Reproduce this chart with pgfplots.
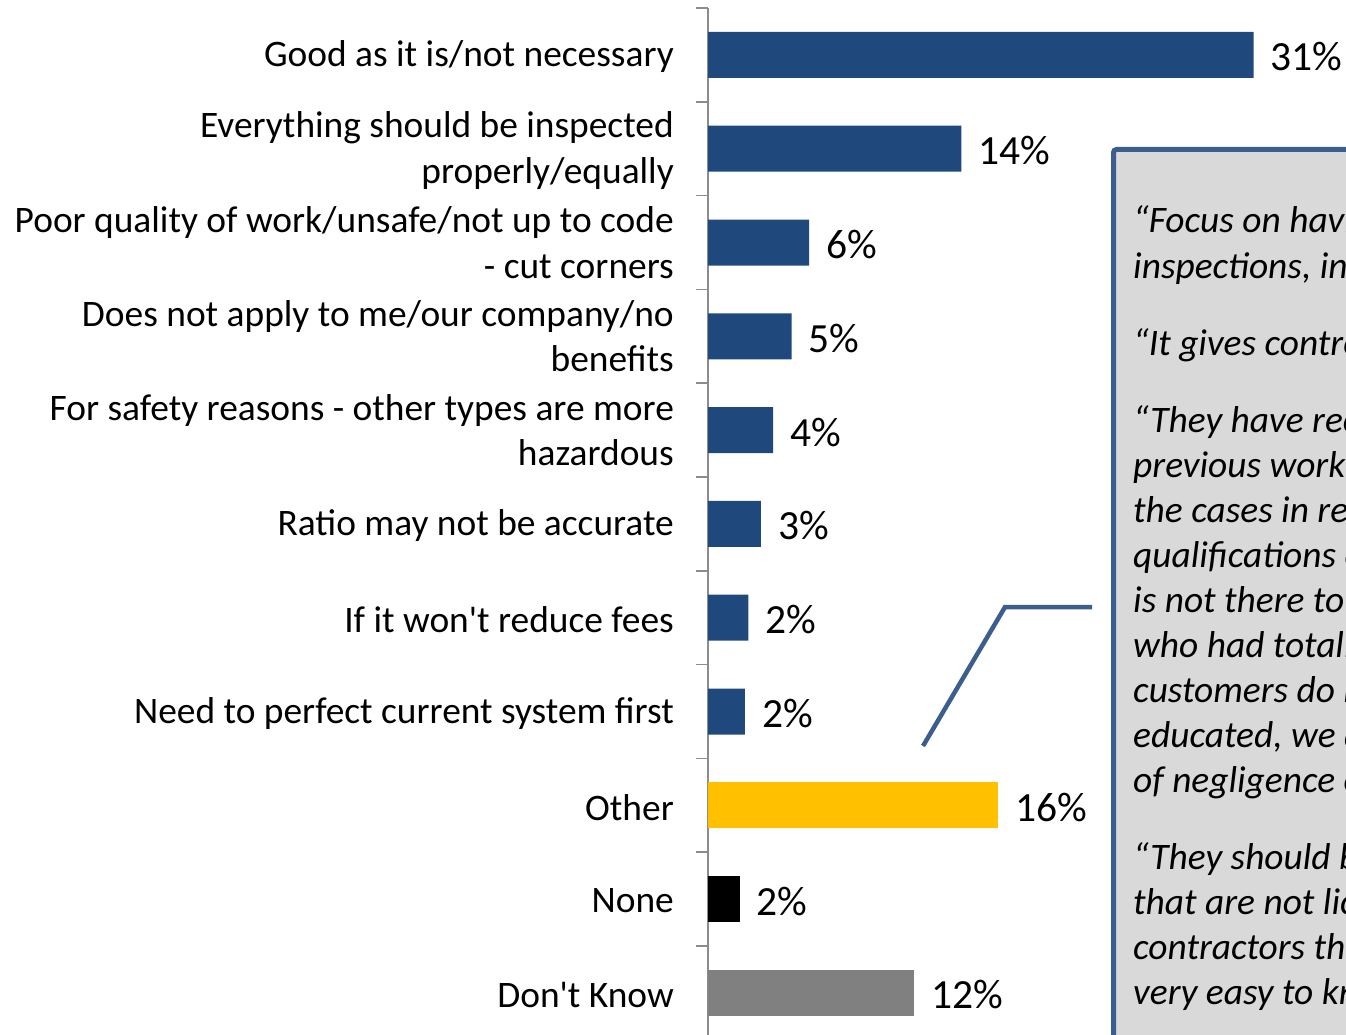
\documentclass[border=0pt]{standalone}
\usepackage{fontspec}
\setmainfont{Carlito}[Ligatures=TeXOff]
\usepackage{pgfplots}
\pgfplotsset{compat=1.18}
\definecolor{navy}{HTML}{1F497D}
\definecolor{gold}{HTML}{FFC000}
\definecolor{dkgray}{HTML}{808080}
\definecolor{axisgray}{HTML}{8C8C8C}
\definecolor{boxblue}{HTML}{3B5E8F}
\definecolor{boxgray}{HTML}{D9D9D9}
\newcommand{\lbl}{\fontsize{37.4}{45.5}\selectfont}
\newcommand{\pct}{\fontsize{41.5}{48}\selectfont}
\newcommand{\bxf}{\fontsize{37.4}{45}\selectfont\itshape}
\begin{document}
\begin{tikzpicture}[x=1pt,y=-1pt]
\path[use as bounding box] (0,0) rectangle (1346,1035);
\clip (0,0) rectangle (1346,1035);
\begin{axis}[
  at={(708pt,-8pt)}, anchor=north west,
  scale only axis, width=616pt, height=1031.8pt,
  xmin=0, xmax=35, ymin=-0.5, ymax=10.5, y dir=reverse,
  axis x line=none, axis y line*=left,
  xtick=\empty,
  ytick={-0.5,0.5,...,10.5}, yticklabels={},
  tick align=outside, major tick length=12pt,
  axis line style={draw=axisgray, line width=1.5pt},
  y tick style={draw=axisgray, line width=1.5pt},
  xbar, bar width=46pt, bar shift=0pt,
  clip=false,
  nodes near coords, point meta=explicit symbolic,
  nodes near coords style={anchor=west, inner sep=0pt, xshift=17pt, yshift=-2pt, font=\pct, text=black},
]
\addplot[fill=navy, draw=none] coordinates {
  (31.0,0) [31\%]
  (14.4,1) [14\%]
  (5.75,2) [6\%]
  (4.75,3) [5\%]
  (3.7,4) [4\%]
  (3.0,5) [3\%]
  (2.3,6) [2\%]
  (2.1,7) [2\%]
};
\addplot[fill=gold, draw=none] coordinates {(16.5,8) [16\%]};
\addplot[fill=black, draw=none] coordinates {(1.8,9) [2\%]};
\addplot[fill=dkgray, draw=none] coordinates {(11.7,10) [12\%]};

\begin{scope}[every node/.style={anchor=east, align=right, inner sep=0pt, font=\lbl, xshift=-34pt, yshift=-2pt}]
\node at (axis cs:0,0) {Good as it is/not necessary};
\node at (axis cs:0,1) {Everything should be inspected\\properly/equally};
\node[yshift=2pt] at (axis cs:0,2) {Poor quality of work/unsafe/not up to code\\- cut corners};
\node[yshift=2pt] at (axis cs:0,3) {Does not apply to me/our company/no\\benefits};
\node[yshift=2pt] at (axis cs:0,4) {For safety reasons - other types are more\\hazardous};
\node at (axis cs:0,5) {Ratio may not be accurate};
\node at (axis cs:0,6) {If it won't reduce fees};
\node at (axis cs:0,7) {Need to perfect current system first};
\node at (axis cs:0,8) {Other};
\node at (axis cs:0,9) {None};
\node at (axis cs:0,10) {Don't Know};
\end{scope}
\end{axis}

\draw[draw=boxblue, line width=5pt, fill=boxgray, rounded corners=3pt] (1113.5,149.5) rectangle (1420,1100);
\draw[boxblue, line width=4.5pt] (923,746) -- (1005,607) -- (1092,607);

\begin{scope}[every node/.style={anchor=base west, inner sep=0pt, font=\bxf}]
\node at (1133,233) {“Focus on having stricter rules for};
\node at (1133,278) {inspections, including residential.”};
\node at (1133,355) {“It gives control to the city.”};
\node at (1133,432) {“They have record of the contractor's};
\node at (1133,477) {previous work, and they know};
\node at (1133,522) {the cases in relation to poor};
\node at (1133,567) {qualifications of the contractor; it};
\node at (1133,612) {is not there to protect customers};
\node at (1133,657) {who had totally bad work done;};
\node at (1133,702) {customers do not know; if they are};
\node at (1133,747) {educated, we are protected in cases};
\node at (1133,792) {of negligence of contractors.”};
\node at (1133,869) {“They should be going after those};
\node at (1133,914) {that are not licensed, the};
\node at (1133,959) {contractors that are not; it is};
\node at (1133,1004) {very easy to know who they are.”};
\end{scope}
\end{tikzpicture}
\end{document}
